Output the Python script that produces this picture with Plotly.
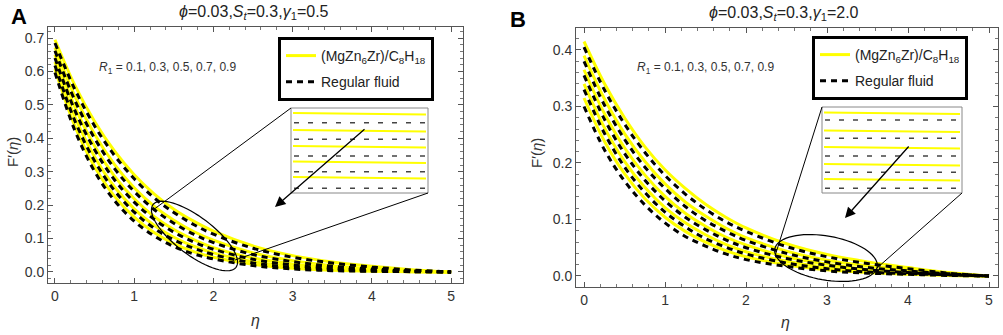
import numpy as np
import plotly.graph_objects as go

W, H = 1003, 335

# ---------------- data ----------------
eta = [0, 0.25, 0.5, 0.75, 1, 1.25, 1.5, 1.75, 2, 2.5, 3, 3.5, 4, 4.5, 5]
R1_values = ["0.1", "0.3", "0.5", "0.7", "0.9"]

# Panel A (gamma1 = 0.5)
left_nano = [
    [.695, .559, .450, .362, .291, .234, .188, .152, .122, .078, .049, .030, .017, .007, 0],
    [.672, .526, .412, .322, .252, .197, .155, .121, .095, .057, .034, .019, .010, .004, 0],
    [.650, .495, .377, .287, .219, .166, .127, .097, .073, .042, .024, .013, .006, .002, 0],
    [.628, .465, .345, .255, .189, .140, .104, .077, .057, .031, .016, .008, .004, .001, 0],
    [.607, .437, .315, .227, .164, .118, .085, .061, .044, .023, .011, .005, .002, .001, 0],
]
left_regular = [
    [.685, .547, .437, .349, .279, .222, .178, .142, .113, .071, .044, .027, .015, .006, 0],
    [.662, .514, .400, .310, .241, .187, .146, .113, .088, .052, .031, .017, .009, .003, 0],
    [.640, .484, .366, .276, .209, .158, .119, .090, .068, .038, .021, .011, .005, .002, 0],
    [.618, .453, .332, .244, .179, .131, .096, .071, .052, .027, .014, .007, .003, .001, 0],
    [.597, .424, .301, .214, .152, .108, .076, .054, .039, .019, .009, .004, .002, .001, 0],
]

# Panel B (gamma1 = 2.0)
right_nano = [
    [.415, .341, .280, .229, .188, .155, .127, .104, .085, .057, .038, .025, .015, .006, 0],
    [.390, .314, .252, .203, .163, .131, .106, .085, .068, .044, .028, .018, .011, .004, 0],
    [.365, .288, .227, .179, .141, .111, .088, .069, .055, .034, .021, .012, .007, .003, 0],
    [.340, .263, .203, .157, .121, .094, .073, .056, .043, .026, .015, .009, .005, .002, 0],
    [.315, .239, .181, .137, .104, .079, .060, .045, .034, .020, .011, .006, .003, .001, 0],
]
right_regular = [
    [.405, .330, .269, .219, .178, .145, .118, .096, .079, .052, .034, .022, .013, .005, 0],
    [.380, .303, .242, .193, .155, .123, .098, .079, .063, .040, .025, .015, .009, .004, 0],
    [.355, .278, .217, .170, .133, .104, .082, .064, .050, .031, .019, .011, .006, .002, 0],
    [.330, .253, .193, .148, .113, .087, .066, .051, .039, .023, .013, .007, .004, .002, 0],
    [.300, .224, .168, .126, .094, .070, .053, .039, .029, .017, .009, .005, .003, .001, 0],
]

nano_label = "(MgZn<sub>6</sub>Zr)/C<sub>8</sub>H<sub>18</sub>"
reg_label = "Regular fluid"
YELLOW = "#FFFF00"
FONT = "Liberation Sans, Arial, sans-serif"
TXT = "#333333"


def px(x):
    return x / W


def py(y):
    return 1 - y / H


fig = go.Figure()

panels = [
    ("x", "y", "legend", left_nano, left_regular),
    ("x2", "y2", "legend2", right_nano, right_regular),
]
for xa, ya, lg, nano, reg in panels:
    for i, ys in enumerate(nano):
        fig.add_trace(go.Scatter(
            x=eta, y=ys, xaxis=xa, yaxis=ya, mode="lines",
            line=dict(color=YELLOW, width=3, shape="spline", smoothing=1.0),
            name=nano_label, legend=lg, legendgroup="nano", showlegend=(i == 0),
            hoverinfo="skip"))
    for i, ys in enumerate(reg):
        fig.add_trace(go.Scatter(
            x=eta, y=ys, xaxis=xa, yaxis=ya, mode="lines",
            line=dict(color="black", width=3, dash="6px,5px",
                      shape="spline", smoothing=1.0),
            name=reg_label, legend=lg, legendgroup="reg", showlegend=(i == 0),
            hoverinfo="skip"))

axis_common = dict(
    showline=True, mirror="ticks", linecolor="#555555", linewidth=1,
    ticks="inside", ticklen=5, tickcolor="#555555", tickwidth=1,
    showgrid=False, zeroline=False,
    tickfont=dict(family=FONT, size=14, color=TXT),
)

legend_common = dict(
    xanchor="left", yanchor="top",
    bordercolor="black", borderwidth=3, bgcolor="white",
    font=dict(family=FONT, size=14, color="#222"),
    itemwidth=30, tracegroupgap=5,
)

fig.update_layout(
    width=W, height=H, autosize=False,
    margin=dict(l=0, r=0, t=0, b=0),
    paper_bgcolor="white", plot_bgcolor="white",
    font=dict(family=FONT, color=TXT),
    xaxis=dict(domain=[px(48), px(463)], range=[-0.088, 5.15],
               tickvals=[0, 1, 2, 3, 4, 5], anchor="y",
               minor=dict(ticks="inside", ticklen=3, dtick=0.2, tickcolor="#777"),
               **axis_common),
    yaxis=dict(domain=[py(283), py(27)], range=[-0.033, 0.733],
               tickvals=[0, .1, .2, .3, .4, .5, .6, .7], tickformat=".1f",
               anchor="x",
               minor=dict(ticks="inside", ticklen=3, dtick=0.02, tickcolor="#777"),
               **axis_common),
    xaxis2=dict(domain=[px(576), px(998)], range=[-0.099, 5.111],
                tickvals=[0, 1, 2, 3, 4, 5], anchor="y2",
                minor=dict(ticks="inside", ticklen=3, dtick=0.2, tickcolor="#777"),
                **axis_common),
    yaxis2=dict(domain=[py(287), py(28)], range=[-0.0195, 0.4389],
                tickvals=[0, .1, .2, .3, .4], tickformat=".1f", anchor="x2",
                minor=dict(ticks="inside", ticklen=3, dtick=0.02, tickcolor="#777"),
                **axis_common),
    legend=dict(x=px(278), y=py(37), **legend_common),
    legend2=dict(x=px(812), y=py(36), **legend_common),
)

ann = []


def text(x, y, s, size=13, **kw):
    color = kw.pop("color", TXT)
    d = dict(x=px(x), y=py(y), xref="paper", yref="paper", text=s,
             showarrow=False, xanchor="center", yanchor="middle",
             font=dict(family=FONT, size=size, color=color))
    d.update(kw)
    ann.append(d)


# Titles and panel letters
text(254, 13, "<i>ϕ</i>=0.03,<i>S</i><sub><i>t</i></sub>=0.3,<i>γ</i><sub>1</sub>=0.5", size=16, color="#222")
text(784, 14, "<i>ϕ</i>=0.03,<i>S</i><sub><i>t</i></sub>=0.3,<i>γ</i><sub>1</sub>=2.0", size=16, color="#222")
text(19, 17, "<b>A</b>", size=22, color="black")
text(518, 19, "<b>B</b>", size=22, color="black")
# axis titles
text(12, 152, "F′(<i>η</i>)", size=15, textangle=-90)
text(537, 153, "F′(<i>η</i>)", size=15, textangle=-90)
text(255, 320, "<i>η</i>", size=16)
text(785, 322, "<i>η</i>", size=16)
# R1 labels
r1 = "<i>R</i><sub>1</sub> = " + ", ".join(R1_values)
text(97, 68, r1, size=12, xanchor="left")
text(635, 68, r1, size=12, xanchor="left")

# arrows in insets
for (hx, hy, tx, ty) in [(275, 207, 366, 128), (845, 218, 910, 145)]:
    ann.append(dict(x=px(hx), y=py(hy), xref="paper", yref="paper",
                    ax=tx - hx, ay=ty - hy, text="", showarrow=True,
                    arrowhead=2, arrowsize=1.6, arrowwidth=1.3, arrowcolor="black"))

fig.update_layout(annotations=ann)

shapes = []


def line(x0, y0, x1, y1, color="black", width=1, dash=None):
    d = dict(type="line", xref="paper", yref="paper",
             x0=px(x0), y0=py(y0), x1=px(x1), y1=py(y1),
             line=dict(color=color, width=width))
    if dash:
        d["line"]["dash"] = dash
    shapes.append(d)


def ellipse(cx, cy, a, b, theta_deg):
    th = np.radians(theta_deg)
    t = np.linspace(0, 2 * np.pi, 73)
    xs = cx + a * np.cos(t) * np.cos(th) - b * np.sin(t) * np.sin(th)
    ys = cy + a * np.cos(t) * np.sin(th) + b * np.sin(t) * np.cos(th)
    path = "M " + " L ".join(f"{px(x):.5f},{py(y):.5f}" for x, y in zip(xs, ys)) + " Z"
    shapes.append(dict(type="path", xref="paper", yref="paper", path=path,
                       line=dict(color="black", width=1.2)))


def inset(x0, y0, x1, y1, ylines, dlines):
    shapes.append(dict(type="rect", xref="paper", yref="paper",
                       x0=px(x0), y0=py(y0), x1=px(x1), y1=py(y1),
                       line=dict(color="#888888", width=1), fillcolor="white"))
    for yy in ylines:
        line(x0 + 2, yy, x1 - 2, yy + 1.5, color=YELLOW, width=2)
    for yy in dlines:
        line(x0 + 3, yy, x1 - 2, yy, color="#444444", width=1.5, dash="5px,9px")


# Panel A inset and zoom marks
inset(291, 108, 428, 193,
      [113, 130, 146, 161.5, 177], [122.7, 139.3, 156, 171.7, 188.3])
line(291, 108, 153, 210)
line(428, 193, 235, 260)
ellipse(194.5, 236, 52, 19, 37)

# Panel B inset and zoom marks
inset(822, 107, 962, 193,
      [112.5, 130.5, 147, 164, 179], [120, 138.3, 156, 172.3, 188.3])
line(822, 107, 775, 256)
line(962, 193, 877, 268)
ellipse(826, 258, 52, 22, 10)

fig.update_layout(shapes=shapes)

fig.write_html("out.html", config={"displayModeBar": False},
               post_script="document.body.style.margin='0';")
